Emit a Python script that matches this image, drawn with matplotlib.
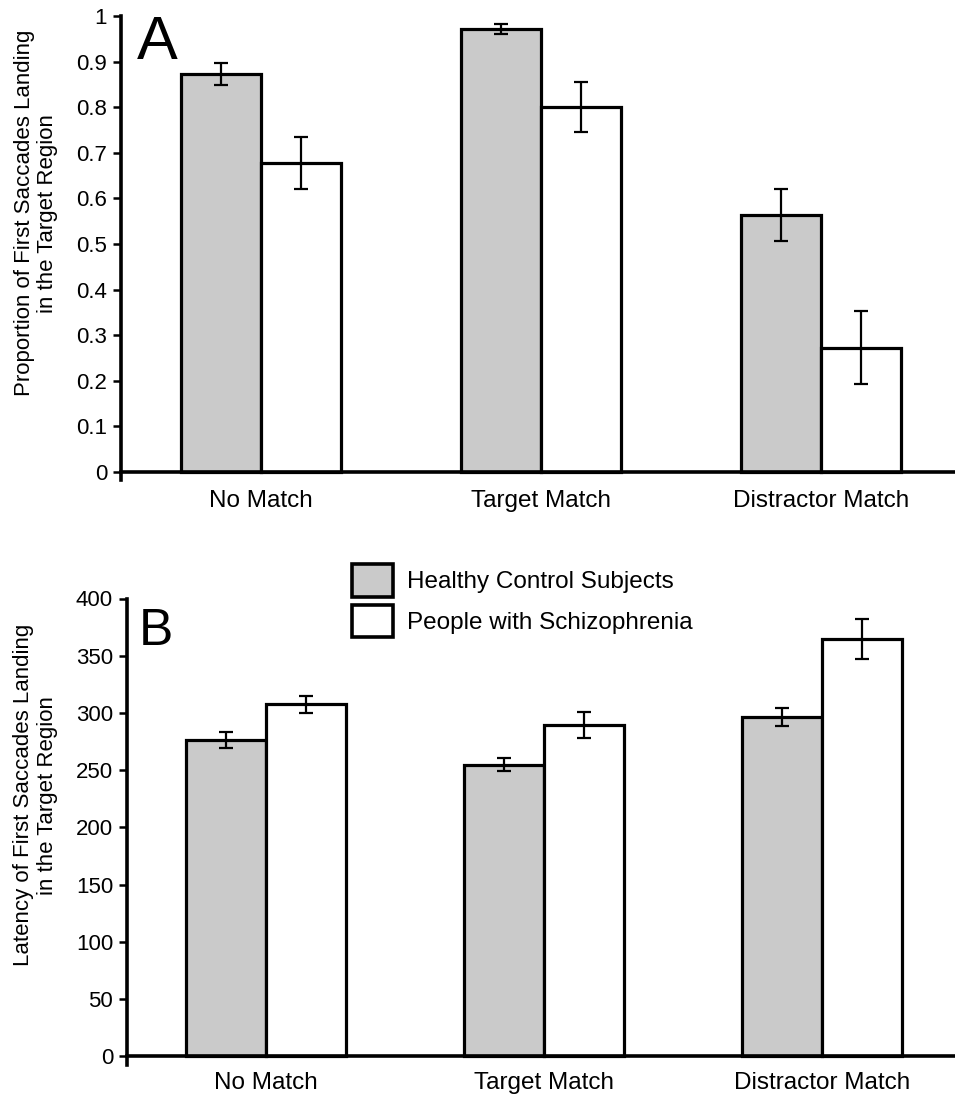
import matplotlib
matplotlib.use("Agg")
import matplotlib.pyplot as plt
import numpy as np

plt.rcParams['font.family'] = ['Liberation Sans', 'DejaVu Sans']

conditions = ['No Match', 'Target Match', 'Distractor Match']
groups = ['Healthy Control Subjects', 'People with Schizophrenia']

# panel A: proportion of first saccades in target region
prop_control = [0.873, 0.971, 0.564]
prop_control_err = [0.024, 0.011, 0.057]
prop_schiz = [0.677, 0.801, 0.273]
prop_schiz_err = [0.057, 0.055, 0.080]

# panel B: latency (ms)
lat_control = [276.5, 255.0, 296.5]
lat_control_err = [6.7, 5.3, 7.7]
lat_schiz = [307.5, 289.5, 365.0]
lat_schiz_err = [7.7, 11.0, 17.5]

gray = '#cacaca'
W, H = 955, 1096

fig = plt.figure(figsize=(W / 100, H / 100), dpi=100)


def px_axes(left, top, width, height):
    return fig.add_axes([left / W, 1 - (top + height) / H, width / W, height / H])


def draw_panel(ax, ctrl, ctrl_err, sch, sch_err, ylim, yticks, ticklabels, ylabel, label_xy, xpad):
    x = np.arange(len(conditions))
    bw = 0.286
    ekw = dict(elinewidth=1.6, capthick=1.6, capsize=4.8, ecolor='black')
    ax.bar(x - bw / 2, ctrl, bw, color=gray, edgecolor='black', linewidth=2.3,
           yerr=ctrl_err, error_kw=ekw, label=groups[0], zorder=2)
    ax.bar(x + bw / 2, sch, bw, color='white', edgecolor='black', linewidth=2.3,
           yerr=sch_err, error_kw=ekw, label=groups[1], zorder=2)
    ax.set_xlim(-0.5, 2.5)
    ax.set_ylim(*ylim)
    ax.set_yticks(yticks)
    ax.set_yticklabels(ticklabels)
    ax.set_xticks(x)
    ax.set_xticklabels(conditions)
    ax.tick_params(axis='x', length=0, pad=xpad, labelsize=17.5)
    ax.tick_params(axis='y', length=6, width=1.8, pad=4, direction='out', labelsize=16)
    for s in ['top', 'right']:
        ax.spines[s].set_visible(False)
    ax.spines['left'].set_linewidth(2.6)
    ax.spines['bottom'].set_linewidth(2.6)
    ax.spines['bottom'].set_position(('data', 0))
    ax.spines['bottom'].set_zorder(3)
    ax.set_ylabel(ylabel, fontsize=16, linespacing=1.15)
    ax.yaxis.set_label_coords(*label_xy)


ax1 = px_axes(121, 16, 840, 464)
draw_panel(ax1, prop_control, prop_control_err, prop_schiz, prop_schiz_err,
           (-0.0175, 1.0), np.arange(0, 1.01, 0.1),
           ['0'] + ['%.1f' % v for v in np.arange(0.1, 0.95, 0.1)] + ['1'],
           'Proportion of First Saccades Landing\nin the Target Region', (-0.075, 0.575), 13)
ax1.text(137 / W, 1 - 59 / H, 'A', transform=fig.transFigure, fontsize=44,
         ha='left', va='baseline')

ax2 = px_axes(127, 598.5, 834, 466)
draw_panel(ax2, lat_control, lat_control_err, lat_schiz, lat_schiz_err,
           (-7, 400), np.arange(0, 401, 50), [str(v) for v in range(0, 401, 50)],
           'Latency of First Saccades Landing\nin the Target Region', (-0.083, 0.578), 11)
ax2.text(139 / W, 1 - 645 / H, 'B', transform=fig.transFigure, fontsize=37,
         ha='left', va='baseline')

fs = 17.5
fs_px = fs * 100 / 72
leg = ax2.legend(loc='upper left', bbox_to_anchor=(352 / W, 1 - 564 / H),
                 bbox_transform=fig.transFigure, frameon=False, fontsize=fs,
                 handlelength=41 / fs_px, handleheight=41 / fs_px,
                 handletextpad=14 / fs_px, labelspacing=8 / fs_px,
                 borderpad=0, borderaxespad=0)
for p in leg.get_patches():
    p.set_linewidth(2.6)

fig.savefig('out.png', dpi=100)
